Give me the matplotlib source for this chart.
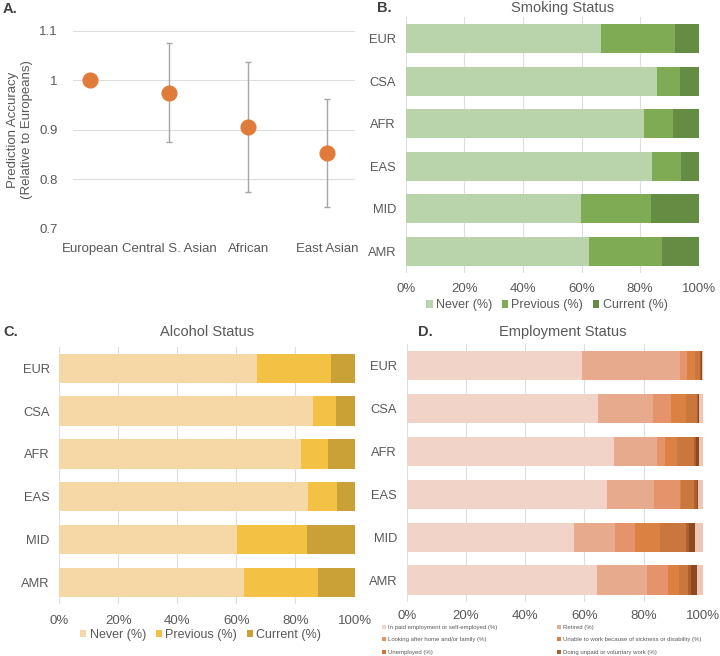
import numpy as np
import matplotlib
matplotlib.use("Agg")
import matplotlib.pyplot as plt

plt.rcParams['font.family'] = ['Liberation Sans', 'DejaVu Sans']
TXT = '#595959'
GRID = '#dedede'

# Panel A data
pop_names = ["European", "Central S. Asian", "African", "East Asian"]
acc_mean = [1.0, 0.975, 0.905, 0.853]
acc_low = [1.0, 0.875, 0.775, 0.745]
acc_high = [1.0, 1.075, 1.038, 0.963]
acc_ticks = [0.7, 0.8, 0.9, 1.0, 1.1]
acc_ticklabels = ["0.7", "0.8", "0.9", "1", "1.1"]

# Panels B-D data
groups = ["EUR", "CSA", "AFR", "EAS", "MID", "AMR"]
pct_ticks = [0, 20, 40, 60, 80, 100]
pct_labels = ["0%", "20%", "40%", "60%", "80%", "100%"]
status_labels = ["Never (%)", "Previous (%)", "Current (%)"]

smoke_never = [66.7, 85.8, 81.3, 84.2, 59.8, 62.5]
smoke_prev = [25.3, 7.8, 9.8, 9.9, 23.9, 25.1]
smoke_curr = [8.0, 6.4, 8.9, 5.9, 16.3, 12.4]
smoke_colors = ['#b9d3aa', '#7eab54', '#648c42']

alc_never = [66.8, 86.0, 81.7, 84.2, 60.2, 62.5]
alc_prev = [25.2, 7.7, 9.4, 9.8, 23.7, 25.1]
alc_curr = [8.0, 6.3, 8.9, 6.0, 16.1, 12.4]
alc_colors = ['#f6d8a7', '#f3c245', '#c9a136']

emp_labels = ["In paid employment or self-employed (%)", "Retired (%)",
              "Looking after home and/or family (%)",
              "Unable to work because of sickness or disability (%)",
              "Unemployed (%)", "Doing unpaid or voluntary work (%)",
              "Full or part-time student (%)", "None of the above (%)"]
emp_paid = [59.2, 64.6, 70.0, 67.5, 56.4, 64.3]
emp_retired = [33.0, 18.6, 14.6, 15.9, 13.9, 17.0]
emp_home = [2.6, 6.0, 2.6, 8.8, 6.8, 6.8]
emp_unable = [2.5, 5.0, 4.1, 0.6, 8.4, 3.8]
emp_unemployed = [1.7, 3.8, 5.7, 4.1, 8.8, 3.1]
emp_unpaid = [0.4, 0.3, 0.8, 1.1, 1.1, 1.2]
emp_student = [0.4, 0.3, 1.0, 0.4, 1.9, 1.7]
emp_none = [0.2, 1.4, 1.2, 1.6, 2.7, 2.1]
emp_colors = ['#f2d3c7', '#e7aa8c', '#e4936a', '#db8141', '#c9773c',
              '#ad602d', '#8c4a22', '#efc6b3']

fig = plt.figure(figsize=(7.2, 6.56), dpi=100)

# ---- Panel A ----
axA = fig.add_axes([0.101, 0.651, 0.392, 0.302])
x = np.arange(len(pop_names))
mean = np.array(acc_mean)
yerr = [mean - np.array(acc_low), np.array(acc_high) - mean]
axA.errorbar(x, mean, yerr=yerr, fmt='none', ecolor='#a6a6a6', elinewidth=1,
             capsize=2, capthick=1, zorder=2)
axA.plot(x, mean, 'o', color='#e07b39', ms=10.6, zorder=3)
axA.set_ylim(0.7, 1.1)
axA.set_xlim(-0.22, 3.35)
axA.set_yticks(acc_ticks)
axA.set_yticklabels(acc_ticklabels)
axA.set_xticks(x)
axA.set_xticklabels(pop_names)
axA.yaxis.grid(True, color=GRID, lw=0.8)
axA.set_axisbelow(True)
for s in axA.spines.values():
    s.set_visible(False)
axA.tick_params(axis='y', length=0, pad=11, labelsize=9.5, colors=TXT)
axA.tick_params(axis='x', length=0, pad=10, labelsize=9.5, colors=TXT)
axA.set_ylabel("Prediction Accuracy\n(Relative to Europeans)", fontsize=9.5,
               color=TXT, labelpad=4, linespacing=1.3)


def stacked(ax, parts, colors, labels, xpad=7.5):
    y = np.arange(len(groups))
    left = np.zeros(len(groups))
    handles = []
    for vals, c, lab in zip(parts, colors, labels):
        h = ax.barh(y, vals, left=left, height=0.68, color=c, label=lab, zorder=2)
        handles.append(h)
        left = left + np.array(vals)
    ax.set_ylim(len(groups) - 0.5, -0.5)
    ax.set_xlim(0, 100)
    ax.set_yticks(y)
    ax.set_yticklabels(groups)
    ax.set_xticks(pct_ticks)
    ax.set_xticklabels(pct_labels)
    ax.xaxis.grid(True, color=GRID, lw=0.8)
    ax.set_axisbelow(True)
    for s in ax.spines.values():
        s.set_visible(False)
    ax.tick_params(axis='y', length=0, pad=7, labelsize=9.3, colors=TXT)
    ax.tick_params(axis='x', length=0, pad=xpad, labelsize=9.5, colors=TXT)
    return handles


leg_kw = dict(loc='center', ncol=3, frameon=False, fontsize=9, handlelength=0.5,
              handleheight=0.5, handletextpad=0.25, columnspacing=0.8,
              labelcolor=TXT)

# ---- Panel B ----
axB = fig.add_axes([0.5635, 0.584, 0.407, 0.390])
hB = stacked(axB, [smoke_never, smoke_prev, smoke_curr], smoke_colors, status_labels)
axB.legend(hB, status_labels, bbox_to_anchor=(0.482, -0.127), **leg_kw)

# ---- Panel C ----
axC = fig.add_axes([0.0824, 0.079, 0.410, 0.3925])
hC = stacked(axC, [alc_never, alc_prev, alc_curr], alc_colors, status_labels)
axC.legend(hC, status_labels, bbox_to_anchor=(0.479, -0.120), **leg_kw)

# ---- Panel D ----
axD = fig.add_axes([0.565, 0.083, 0.411, 0.3926])
hD = stacked(axD, [emp_paid, emp_retired, emp_home, emp_unable, emp_unemployed,
                   emp_unpaid, emp_student, emp_none], emp_colors, emp_labels,
             xpad=6)
order = [0, 2, 4, 1, 3, 5]
fig.legend([hD[i] for i in order], [emp_labels[i] for i in order],
           loc='upper left', bbox_to_anchor=(382 / 720, 1 - 624.5 / 656), ncol=2,
           frameon=False, fontsize=4.3, handlelength=0.7, handleheight=0.7,
           handletextpad=0.3, columnspacing=10.0, labelspacing=1.25,
           labelcolor=TXT, borderpad=0, borderaxespad=0)

# titles and panel letters
fig.text(0.781, 1 - 8 / 656, "Smoking Status", ha='center', va='center',
         fontsize=10.5, color=TXT)
fig.text(0.287, 1 - 332 / 656, "Alcohol Status", ha='center', va='center',
         fontsize=10.5, color=TXT)
fig.text(0.7815, 1 - 332 / 656, "Employment Status", ha='center', va='center',
         fontsize=10.5, color=TXT)
for lab, px, py in [("A.", 3, 9), ("B.", 377, 8), ("C.", 3, 332), ("D.", 418, 332)]:
    fig.text(px / 720, 1 - py / 656, lab, ha='left', va='center', fontsize=10.5,
             fontweight='bold', color='#404040')

fig.savefig("out.png", dpi=100)
